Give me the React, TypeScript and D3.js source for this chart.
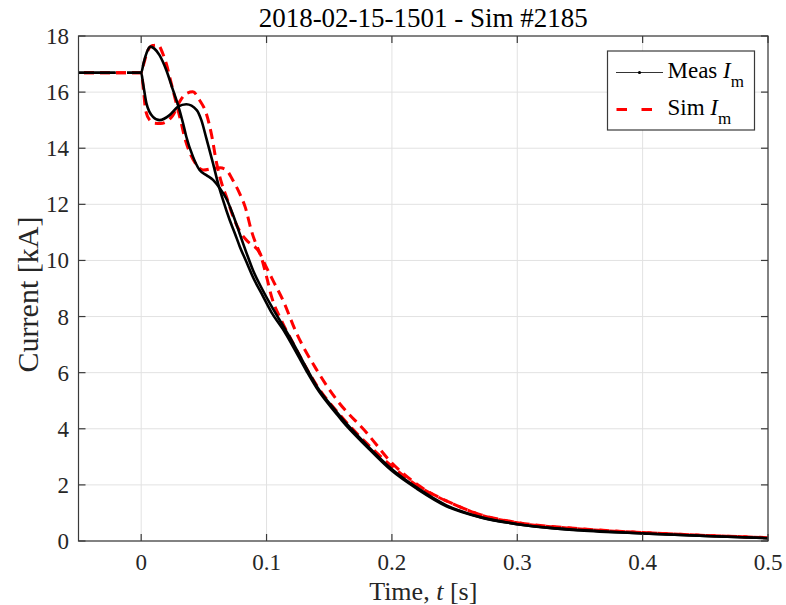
import React, { useEffect, useRef } from 'react'
import * as d3 from 'd3'

const W = 786
const H = 605
const margin = { top: 36, right: 18, bottom: 64, left: 78.5 }

const titleText = '2018-02-15-1501 - Sim #2185'
const xTicks = [0, 0.1, 0.2, 0.3, 0.4, 0.5]
const yTicks = [0, 2, 4, 6, 8, 10, 12, 14, 16, 18]

// measured current, two traces (null = no samples)
const measATime = [-0.05, -0.0204, -0.016, -0.0113, 0, 0.002, 0.0045, 0.0074, 0.0105, 0.0146, 0.02, 0.0254, 0.0294, 0.0334, 0.036, 0.0413, 0.0466, 0.052, 0.0573, 0.0627, 0.068, 0.0733, 0.0786, 0.0839, 0.0892, 0.0972, 0.1038, 0.113, 0.12, 0.132, 0.14, 0.156, 0.16, 0.18, 0.2, 0.22, 0.2435, 0.27, 0.3, 0.33, 0.35, 0.4, 0.45, 0.5]
const measAValue = [16.69, 16.69, null, 16.69, 16.69, 17.05, 17.42, 17.62, 17.55, 17.32, 16.79, 16.07, 15.54, 14.89, 14.41, 13.7, 13.22, 13.04, 12.87, 12.57, 12.2, 11.62, 10.95, 10.28, 9.65, 8.92, 8.38, 7.68, 7.15, 6.15, 5.52, 4.6, 4.38, 3.42, 2.56, 1.9, 1.27, 0.86, 0.6, 0.45, 0.39, 0.27, 0.18, 0.1]

const measBTime = [-0.05, -0.0204, -0.016, -0.0113, 0, 0.0015, 0.0042, 0.0094, 0.0147, 0.0227, 0.0294, 0.036, 0.0443, 0.048, 0.052, 0.0573, 0.0613, 0.0653, 0.0706, 0.0746, 0.0786, 0.0839, 0.0892, 0.0972, 0.1038, 0.113, 0.12, 0.132, 0.14, 0.156, 0.16, 0.18, 0.2, 0.22, 0.2435, 0.27, 0.3, 0.33, 0.35, 0.4, 0.45, 0.5]
const measBValue = [16.69, 16.69, null, 16.69, 16.69, 16.31, 15.6, 15.12, 15.0, 15.18, 15.48, 15.57, 15.36, 15.0, 14.35, 13.46, 12.75, 12.15, 11.44, 10.98, 10.5, 9.95, 9.4, 8.72, 8.16, 7.55, 7.02, 6.05, 5.45, 4.52, 4.3, 3.36, 2.5, 1.86, 1.24, 0.85, 0.6, 0.45, 0.38, 0.27, 0.18, 0.1]

// simulated current, two traces
const simATime = [-0.05, 0, 0.002, 0.005, 0.009, 0.0135, 0.017, 0.02, 0.024, 0.028, 0.032, 0.0345, 0.038, 0.0443, 0.0496, 0.0573, 0.063, 0.068, 0.073, 0.0785, 0.083, 0.088, 0.096, 0.105, 0.113, 0.124, 0.14, 0.156, 0.18, 0.2, 0.22, 0.25, 0.27, 0.3, 0.35, 0.4, 0.45, 0.5]
const simAValue = [16.69, 16.69, 17.0, 17.45, 17.66, 17.68, 17.4, 17.02, 16.31, 15.6, 14.89, 14.41, 13.93, 13.4, 13.22, 13.28, 13.3, 13.22, 12.87, 12.39, 11.9, 11.05, 10.13, 9.3, 8.59, 7.4, 6.1, 5.03, 3.85, 2.78, 2.02, 1.3, 0.95, 0.66, 0.44, 0.3, 0.2, 0.12]

const simBTime = [-0.05, 0, 0.002, 0.0035, 0.0068, 0.0108, 0.0155, 0.02, 0.0254, 0.0307, 0.036, 0.0412, 0.0465, 0.0519, 0.0559, 0.0602, 0.0642, 0.068, 0.0733, 0.0785, 0.0839, 0.0946, 0.1, 0.104, 0.112, 0.12, 0.14, 0.16, 0.18, 0.2, 0.22, 0.25, 0.27, 0.3, 0.35, 0.4, 0.45, 0.5]
const simBValue = [16.69, 16.69, 16.0, 15.36, 15.0, 14.89, 14.88, 14.94, 15.18, 15.66, 15.95, 16.01, 15.72, 15.24, 14.53, 13.46, 12.75, 12.27, 11.56, 11.05, 10.73, 10.25, 9.42, 8.71, 7.85, 7.15, 5.55, 4.42, 3.48, 2.66, 1.98, 1.3, 0.94, 0.65, 0.43, 0.3, 0.2, 0.12]

const FONT = '"Liberation Serif", "Times New Roman", serif'

function App() {
  const ref = useRef<SVGSVGElement>(null)

  useEffect(() => {
    const svg = d3.select(ref.current)
    svg.selectAll('*').remove()

    const x = d3.scaleLinear().domain([-0.05, 0.5]).range([margin.left, W - margin.right])
    const y = d3.scaleLinear().domain([0, 18]).range([H - margin.bottom, margin.top])

    const line = d3.line<[number, number | null]>()
      .defined(d => d[1] !== null)
      .x(d => x(d[0]))
      .y(d => y(d[1] as number))
      .curve(d3.curveMonotoneX)

    const zipped = (ts: number[], vs: (number | null)[]) => ts.map((t, i) => [t, vs[i]] as [number, number | null])

    svg.append('rect').attr('x', 0).attr('y', 0).attr('width', W).attr('height', H).attr('fill', 'white')

    // grid
    const grid = svg.append('g').attr('stroke', '#e2e2e2').attr('stroke-width', 1)
    grid.selectAll('.gx').data(xTicks).enter().append('line')
      .attr('x1', d => x(d)).attr('x2', d => x(d))
      .attr('y1', y(0)).attr('y2', y(18))
    grid.selectAll('.gy').data(yTicks).enter().append('line')
      .attr('x1', x(-0.05)).attr('x2', x(0.5))
      .attr('y1', d => y(d)).attr('y2', d => y(d))

    // curves: sim under meas
    const curves = svg.append('g').attr('fill', 'none')
    ;[[simATime, simAValue], [simBTime, simBValue]].forEach(([ts, vs]) => {
      curves.append('path')
        .attr('d', line(zipped(ts as number[], vs as number[])))
        .attr('stroke', '#ff0000').attr('stroke-width', 3)
        .attr('stroke-dasharray', '10 6').attr('stroke-dashoffset', 10.5)
    })
    ;[[measATime, measAValue], [measBTime, measBValue]].forEach(([ts, vs]) => {
      curves.append('path')
        .attr('d', line(zipped(ts as number[], vs as (number | null)[])))
        .attr('stroke', '#000').attr('stroke-width', 2.6)
        .attr('stroke-linejoin', 'round')
    })

    // axes box + inward ticks
    const ax = svg.append('g').attr('stroke', '#3a3a3a').attr('stroke-width', 1.2)
    ax.append('rect')
      .attr('x', x(-0.05)).attr('y', y(18))
      .attr('width', x(0.5) - x(-0.05)).attr('height', y(0) - y(18))
      .attr('fill', 'none')
    const tl = 7
    xTicks.forEach(t => {
      ax.append('line').attr('x1', x(t)).attr('x2', x(t)).attr('y1', y(0)).attr('y2', y(0) - tl)
      ax.append('line').attr('x1', x(t)).attr('x2', x(t)).attr('y1', y(18)).attr('y2', y(18) + tl)
    })
    yTicks.forEach(v => {
      ax.append('line').attr('x1', x(-0.05)).attr('x2', x(-0.05) + tl).attr('y1', y(v)).attr('y2', y(v))
      ax.append('line').attr('x1', x(0.5)).attr('x2', x(0.5) - tl).attr('y1', y(v)).attr('y2', y(v))
    })

    const txt = svg.append('g').attr('font-family', FONT).attr('fill', '#262626')
    txt.selectAll('.xl').data(xTicks).enter().append('text')
      .attr('x', d => x(d)).attr('y', 570)
      .attr('text-anchor', 'middle').attr('font-size', 23)
      .text(d => d3.format('')(d))
    txt.selectAll('.yl').data(yTicks).enter().append('text')
      .attr('x', 69).attr('y', d => y(d) + 8)
      .attr('text-anchor', 'end').attr('font-size', 23)
      .text(d => d)

    const xl = txt.append('text').attr('x', (x(-0.05) + x(0.5)) / 2).attr('y', 600)
      .attr('text-anchor', 'middle').attr('font-size', 26)
    xl.append('tspan').text('Time, ')
    xl.append('tspan').attr('font-style', 'italic').text('t')
    xl.append('tspan').text(' [s]')

    txt.append('text')
      .attr('transform', `translate(38,${(y(0) + y(18)) / 2 + 6}) rotate(-90)`)
      .attr('text-anchor', 'middle').attr('font-size', 30)
      .text('Current [kA]')

    txt.append('text').attr('x', (x(-0.05) + x(0.5)) / 2).attr('y', 27)
      .attr('text-anchor', 'middle').attr('font-size', 27).attr('fill', '#000')
      .text(titleText)

    // legend
    const lg = svg.append('g')
    lg.append('rect').attr('x', 607.5).attr('y', 51).attr('width', 147).attr('height', 79)
      .attr('fill', 'white').attr('stroke', '#3a3a3a').attr('stroke-width', 1.2)
    lg.append('line').attr('x1', 616).attr('x2', 663).attr('y1', 72.5).attr('y2', 72.5)
      .attr('stroke', '#000').attr('stroke-width', 0.8)
    lg.append('circle').attr('cx', 639.5).attr('cy', 72.5).attr('r', 1.6).attr('fill', '#000')
    lg.append('line').attr('x1', 616.5).attr('x2', 653).attr('y1', 109.5).attr('y2', 109.5)
      .attr('stroke', '#ff0000').attr('stroke-width', 3).attr('stroke-dasharray', '10.5 14.5')

    const entries = [{ name: 'Meas ', y: 78 }, { name: 'Sim ', y: 115 }]
    entries.forEach(e => {
      const t = lg.append('text').attr('x', 667.5).attr('y', e.y)
        .attr('font-family', FONT).attr('font-size', 23).attr('fill', '#000')
      t.append('tspan').text(e.name)
      t.append('tspan').attr('font-style', 'italic').text('I')
      t.append('tspan').attr('dy', 9).attr('font-size', 17).text('m')
    })
  }, [])

  return (
    <svg ref={ref} width={W} height={H}
      style={{ position: 'absolute', left: 0, top: 0, display: 'block' }} />
  )
}

export default App
